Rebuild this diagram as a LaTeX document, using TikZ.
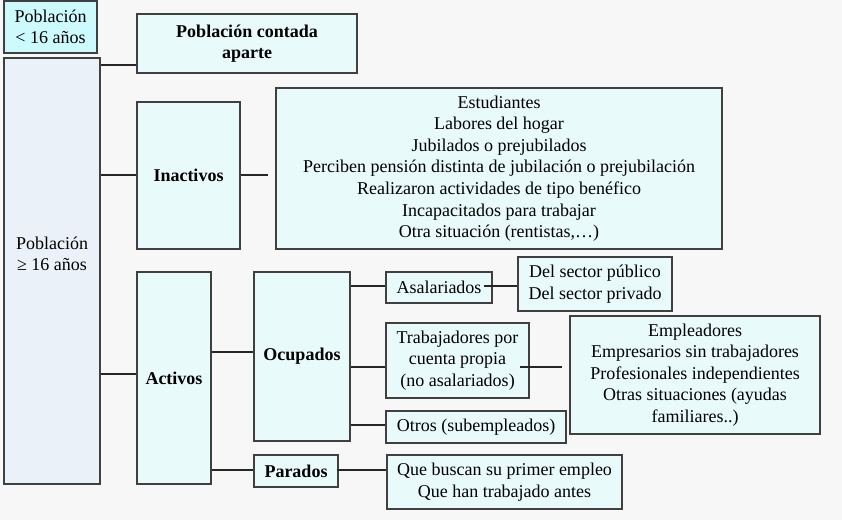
\documentclass[tikz,border=0pt]{standalone}
\usepackage{fontspec}
\setmainfont{Liberation Serif}
\usetikzlibrary{positioning,calc}

\definecolor{fondo}{HTML}{F7F7F7}
\definecolor{cian}{HTML}{CCFAFD}
\definecolor{celeste}{HTML}{E8FAFA}
\definecolor{azulado}{HTML}{EAF1F9}
\definecolor{borde}{HTML}{404040}

\begin{document}
\begin{tikzpicture}[
    x=1pt, y=-1pt,
    caja/.style={
        rectangle,
        draw=borde,
        line width=1.4pt,
        fill=celeste,
        align=center,
        inner sep=0pt,
        font=\fontsize{18pt}{21.6pt}\selectfont
    },
    titulo/.style={
        caja,
        font=\fontsize{18pt}{21.6pt}\selectfont\bfseries
    },
    linea/.style={line width=1.4pt, draw=black!85}
]

\fill[fondo] (0,0) rectangle (842,520);
\useasboundingbox (0,0) rectangle (842,520);

% NIVEL 1: POBLACION
\node[caja, fill=cian, minimum width=93pt, minimum height=52pt] (menores) at (50.5,27) {Población\\< 16 años};
\node[caja, fill=azulado, minimum width=96pt, minimum height=426pt,
      label={[align=center, font=\fontsize{18pt}{21.6pt}\selectfont, yshift=17pt]center:Población\\≥ 16 años}] (mayores) at (52,271) {};

% NIVEL 2: GRUPOS
\node[titulo, minimum width=220pt, minimum height=59pt] (contada) at (247,43.5) {Población contada\\aparte};
\node[titulo, minimum width=103pt, minimum height=147pt] (inactivos) at (188.5,175.5) {Inactivos};
\node[titulo, minimum width=74pt, minimum height=212pt] (activos) at (174,378) {Activos};

% NIVEL 3: DETALLE
\node[caja, minimum width=446pt, minimum height=161pt] (listainactivos) at (499,168.5) {Estudiantes\\Labores del hogar\\Jubilados o prejubilados\\Perciben pensión distinta de jubilación o prejubilación\\Realizaron actividades de tipo benéfico\\Incapacitados para trabajar\\Otra situación (rentistas,…)};
\node[titulo, minimum width=96pt, minimum height=169pt] (ocupados) at (302,356.5) {Ocupados};
\node[titulo, minimum width=84pt, minimum height=32pt] (parados) at (296,471) {Parados};

% NIVEL 4: OCUPADOS Y PARADOS
\node[caja, minimum width=106pt, minimum height=31pt] (asalariados) at (439,287.5) {Asalariados};
\node[caja, minimum width=143pt, minimum height=75pt] (cuentapropia) at (457.5,360.5) {Trabajadores por\\cuenta propia\\(no asalariados)};
\node[caja, minimum width=180pt, minimum height=32pt] (otros) at (476,427) {Otros (subempleados)};
\node[caja, minimum width=235pt, minimum height=54pt] (buscan) at (504.5,482) {Que buscan su primer empleo\\Que han trabajado antes};

% NIVEL 5: SUBTIPOS
\node[caja, minimum width=154pt, minimum height=54pt] (sector) at (595,284) {Del sector público\\Del sector privado};
\node[caja, minimum width=250pt, minimum height=118pt] (empleadores) at (695,375) {Empleadores\\Empresarios sin trabajadores\\Profesionales independientes\\Otras situaciones (ayudas\\familiares..)};

% --- CONEXIONES ---
\draw[linea] (mayores.east |- 0,65) -- (contada.west |- 0,65);
\draw[linea] (mayores.east |- 0,175) -- (inactivos.west |- 0,175);
\draw[linea, shorten >=7pt] (inactivos.east |- 0,175) -- (listainactivos.west |- 0,175);
\draw[linea] (mayores.east |- 0,374) -- (activos.west |- 0,374);

\draw[linea] (activos.east |- 0,352) -- (ocupados.west |- 0,352);
\draw[linea] (activos.east |- 0,470) -- (parados.west |- 0,470);
\draw[linea, shorten <=-2pt] (parados.east |- 0,470) -- (buscan.west |- 0,470);

\draw[linea] (ocupados.east |- 0,286) -- (asalariados.west |- 0,286);
\draw[linea] (ocupados.east |- 0,367) -- (cuentapropia.west |- 0,367);
\draw[linea] (ocupados.east |- 0,425) -- (otros.west |- 0,425);

\draw[linea, shorten <=-9pt] (asalariados.east |- 0,286) -- (sector.west |- 0,286);
\draw[linea, shorten <=-10pt, shorten >=7pt] (cuentapropia.east |- 0,367) -- (empleadores.west |- 0,367);

\end{tikzpicture}
\end{document}
